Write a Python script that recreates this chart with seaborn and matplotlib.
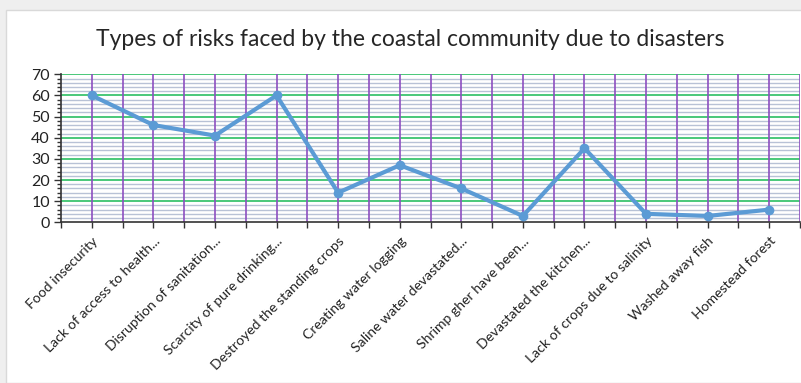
import matplotlib
matplotlib.use("Agg")
import matplotlib.pyplot as plt
import seaborn as sns
import pandas as pd
import numpy as np
from matplotlib.patches import Rectangle
from matplotlib.ticker import MultipleLocator

categories = ["Food insecurity", "Lack of access to health...", "Disruption of sanitation...",
              "Scarcity of pure drinking...", "Destroyed the standing crops", "Creating water logging",
              "Saline water devastated...", "Shrimp gher have been...", "Devastated the kitchen...",
              "Lack of crops due to salinity", "Washed away fish", "Homestead forest"]
values = [60, 46, 41, 60, 14, 27, 16, 3, 35, 4, 3, 6]
title = "Types of risks faced by the coastal community due to disasters"

sns.set_theme(style="white")
plt.rcParams['font.family'] = ['Lato', 'DejaVu Sans']

fig = plt.figure(figsize=(8.01, 3.83), dpi=100)
fig.patch.set_facecolor('#efefef')
bg = Rectangle((6/801, 0), 1, 1 - 10/383, transform=fig.transFigure,
               facecolor='white', edgecolor='#d9d9d9', linewidth=1, zorder=-10)
fig.add_artist(bg)

ax = fig.add_axes([61/801, 160.7/383, 739/801, 148/383])
ax.set_zorder(1)
ax.set_facecolor('none')

df = pd.DataFrame({"pos": np.arange(len(categories)), "value": values})
sns.lineplot(data=df, x="pos", y="value", ax=ax, color='#5b9bd5', linewidth=3.0,
             marker='o', markersize=7, markeredgewidth=0, zorder=5)

ax.set_xlim(-0.5, len(categories) - 0.5)
ax.set_ylim(0, 70)

# gridlines
for yv in np.arange(0, 71, 2):
    if yv % 10 != 0:
        ax.axhline(yv, color='#b8c2d6', linewidth=1, zorder=1)
for yv in np.arange(10, 71, 10):
    ax.axhline(yv, color='#3cc46e', linewidth=1.3, zorder=2)
for xv in np.arange(0, len(categories) + 0.1, 0.5) - 0.5:
    if xv > -0.5:
        ax.axvline(xv, color='#8d4fc0', linewidth=1.2, zorder=3)

ax.set_xticks(np.arange(len(categories)))
ax.set_xticklabels(categories, rotation=45, ha='right', rotation_mode='anchor',
                   fontsize=10.1, color='#222222')
ax.xaxis.set_minor_locator(MultipleLocator(0.5))
ax.tick_params(axis='x', which='both', direction='out', length=4, width=1, color='#333333',
               bottom=True, pad=5)
ax.yaxis.set_major_locator(MultipleLocator(10))
ax.yaxis.set_minor_locator(MultipleLocator(2))
ax.tick_params(axis='y', which='major', direction='out', length=5, width=1, color='#333333',
               left=True, labelsize=11.5, labelcolor='#222222', pad=3)
ax.tick_params(axis='y', which='minor', direction='out', length=3, width=1, color='#333333', left=True)

for s in ['top', 'right']:
    ax.spines[s].set_visible(False)
for s in ['left', 'bottom']:
    ax.spines[s].set_color('#333333')
    ax.spines[s].set_linewidth(1.2)
    ax.spines[s].set_zorder(4)

ax.set_xlabel("")
ax.set_ylabel("")
fig.text(410/801, 1 - 40/383, title, ha='center', va='center', fontsize=16.5, color='#262626')

fig.savefig("out.png", dpi=100)
